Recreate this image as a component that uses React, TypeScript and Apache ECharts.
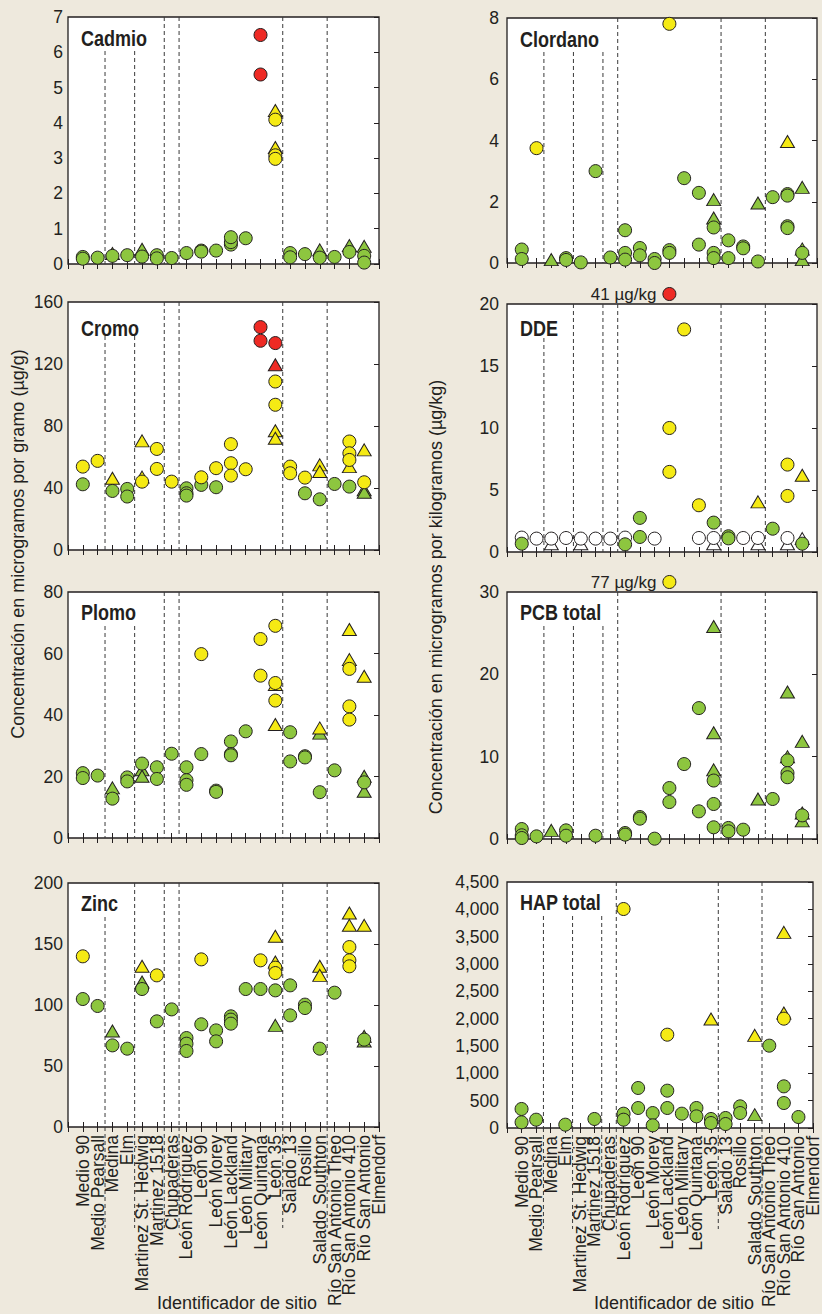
import React, { useEffect, useRef } from 'react';
import * as echarts from 'echarts';

// ---------------- DATA ----------------
const SITES = [
  'Medio 90', 'Medio Pearsall', 'Medina', 'Elm', 'Martinez St. Hedwig', 'Martinez 1518',
  'Chupaderas', 'León Rodríguez', 'León 90', 'León Morey', 'León Lackland', 'León Military',
  'León Quintana', 'León 35', 'Salado 13', 'Rosillo', 'Salado Southton',
  'Río San Antonio Theo', 'Río San Antonio 410', 'Río San Antonio', 'Elmendorf',
];

// boundaries between groups of sites (in site-index units)
const GROUP_BOUNDARIES = [1.5, 3.5, 5.5, 6.5, 13.5, 16.5];

const PANEL_NAMES = ['Cadmio', 'Clordano', 'Cromo', 'DDE', 'Plomo', 'PCB total', 'Zinc', 'HAP total'];
const AXIS_MAX = [7, 8, 160, 20, 80, 30, 200, 4500];
const AXIS_STEP = [1, 2, 40, 5, 20, 10, 50, 500];
const OUTLIER_UNIT = 'µg/kg';

const Y_TITLE_LEFT = 'Concentración en microgramos por gramo (µg/g)';
const Y_TITLE_RIGHT = 'Concentración en microgramos por kilogramos (µg/kg)';
const X_TITLE = 'Identificador de sitio';

// [site index, value, kind]; kind = colour (g green, y yellow, r red, w white) + shape (c circle, t triangle)
type Pt = [number, number, string];

const CADMIO: Pt[] = [
  [0, 0.2, 'gc'], [0, 0.15, 'gc'], [1, 0.18, 'gc'], [2, 0.3, 'gt'], [2, 0.23, 'gc'],
  [3, 0.25, 'gc'], [4, 0.42, 'gt'], [4, 0.21, 'gc'], [5, 0.25, 'gc'], [5, 0.16, 'gc'],
  [6, 0.17, 'gc'], [7, 0.31, 'gc'], [8, 0.38, 'gc'], [8, 0.35, 'gc'], [9, 0.38, 'gc'],
  [10, 0.55, 'gc'], [10, 0.62, 'gc'], [10, 0.76, 'gc'], [11, 0.73, 'gc'],
  [12, 6.49, 'rc'], [12, 5.37, 'rc'],
  [13, 4.35, 'yt'], [13, 3.3, 'yt'], [13, 4.09, 'yc'], [13, 3.08, 'yc'], [13, 2.98, 'yc'],
  [14, 0.31, 'gc'], [14, 0.19, 'gc'], [15, 0.28, 'gc'], [16, 0.4, 'gt'], [16, 0.18, 'gc'],
  [17, 0.2, 'gc'], [18, 0.52, 'gt'], [18, 0.34, 'gc'], [19, 0.5, 'gt'], [19, 0.23, 'gc'], [19, 0.04, 'gc'],
];

const CLORDANO: Pt[] = [
  [0, 0.44, 'gc'], [0, 0.13, 'gc'], [1, 3.75, 'yc'], [2, 0.11, 'gt'], [3, 0.16, 'gc'], [3, 0.1, 'gc'],
  [4, 0.02, 'gc'], [5, 3.0, 'gc'], [6, 0.18, 'gc'], [7, 1.07, 'gc'], [7, 0.33, 'gc'], [7, 0.11, 'gc'],
  [8, 0.49, 'gc'], [8, 0.25, 'gc'], [9, 0.13, 'gc'], [9, 0.0, 'gc'],
  [10, 7.81, 'yc'], [10, 0.42, 'gc'], [10, 0.33, 'gc'], [11, 2.77, 'gc'], [12, 2.29, 'gc'], [12, 0.6, 'gc'],
  [13, 2.07, 'gt'], [13, 1.47, 'gt'], [13, 1.16, 'gc'], [13, 0.33, 'gc'], [13, 0.16, 'gc'],
  [14, 0.74, 'gc'], [14, 0.16, 'gc'], [15, 0.54, 'gc'], [15, 0.48, 'gc'], [16, 1.96, 'gt'], [16, 0.05, 'gc'],
  [17, 2.15, 'gc'], [18, 3.97, 'yt'], [18, 2.25, 'gc'], [18, 2.2, 'gc'], [18, 1.2, 'gc'], [18, 1.14, 'gc'],
  [19, 2.47, 'gt'], [19, 0.46, 'gt'], [19, 0.11, 'gt'], [19, 0.33, 'gc'],
];

const CROMO: Pt[] = [
  [0, 53.8, 'yc'], [0, 42.4, 'gc'], [1, 57.5, 'yc'], [2, 46.3, 'yt'], [2, 38.1, 'gc'],
  [3, 39.4, 'gc'], [3, 34.5, 'gc'], [4, 70.4, 'yt'], [4, 47, 'yt'], [4, 44.1, 'yc'],
  [5, 65.2, 'yc'], [5, 52.3, 'yc'], [6, 44.1, 'yc'], [7, 39.8, 'gc'], [7, 36.6, 'gc'], [7, 35.1, 'gc'],
  [8, 46.9, 'yc'], [8, 42, 'gc'], [9, 52.8, 'yc'], [9, 40.5, 'gc'],
  [10, 68.3, 'yc'], [10, 56, 'yc'], [10, 48, 'yc'], [11, 52.1, 'yc'], [12, 143.8, 'rc'], [12, 135, 'rc'],
  [13, 133.5, 'rc'], [13, 119.5, 'rt'], [13, 108.7, 'yc'], [13, 93.7, 'yc'], [13, 76.9, 'yt'], [13, 72.1, 'yt'],
  [14, 53.8, 'yc'], [14, 49.5, 'yc'], [15, 46.7, 'yc'], [15, 36.6, 'gc'],
  [16, 54.9, 'yt'], [16, 50.6, 'yt'], [16, 32.7, 'gc'], [17, 42.6, 'gc'],
  [18, 70, 'yc'], [18, 62.4, 'yc'], [18, 58.1, 'yc'], [18, 53.8, 'yt'], [18, 40.9, 'gc'],
  [19, 64.6, 'yt'], [19, 43.7, 'yc'], [19, 38.8, 'gt'], [19, 37.3, 'gt'],
];

const DDE: Pt[] = [
  [0, 1.16, 'wc'], [0, 0.67, 'gc'], [1, 1.08, 'wc'], [2, 0.67, 'wt'], [2, 1.08, 'wc'],
  [3, 1.13, 'wc'], [4, 0.67, 'wt'], [4, 1.08, 'wc'], [5, 1.08, 'wc'], [6, 1.08, 'wc'],
  [7, 1.16, 'wc'], [7, 0.62, 'gc'], [8, 2.75, 'gc'], [8, 1.21, 'gc'], [9, 1.08, 'wc'],
  [10, 41, 'rc'], [10, 10.0, 'yc'], [10, 6.46, 'yc'], [11, 17.95, 'yc'],
  [12, 3.77, 'yc'], [12, 1.13, 'wc'], [13, 2.37, 'gc'], [13, 0.67, 'wt'], [13, 1.13, 'wc'],
  [14, 1.27, 'gc'], [14, 1.1, 'gc'], [15, 1.13, 'wc'], [16, 4.04, 'yt'], [16, 0.67, 'wt'], [16, 1.13, 'wc'],
  [17, 1.88, 'gc'], [18, 7.05, 'yc'], [18, 4.52, 'yc'], [18, 0.67, 'wt'], [18, 1.13, 'wc'],
  [19, 6.19, 'yt'], [19, 1.08, 'wt'], [19, 0.67, 'gc'],
];

const PLOMO: Pt[] = [
  [0, 21.1, 'gc'], [0, 19.5, 'gc'], [1, 20.3, 'gc'], [2, 16.3, 'gt'], [2, 12.8, 'gc'],
  [3, 19.7, 'gc'], [3, 18.4, 'gc'], [4, 22.2, 'gt'], [4, 20.1, 'gt'], [4, 24.2, 'gc'],
  [5, 23, 'gc'], [5, 19.2, 'gc'], [6, 27.4, 'gc'], [7, 23, 'gc'], [7, 18.8, 'gc'], [7, 17.3, 'gc'],
  [8, 59.8, 'yc'], [8, 27.3, 'gc'], [9, 15.4, 'gc'], [9, 15, 'gc'],
  [10, 31.4, 'gc'], [10, 27.3, 'gc'], [10, 26.9, 'gc'], [11, 34.7, 'gc'], [12, 64.7, 'yc'], [12, 52.8, 'yc'],
  [13, 69, 'yc'], [13, 49.9, 'yt'], [13, 50.4, 'yc'], [13, 44.7, 'yc'], [13, 36.9, 'yt'],
  [14, 34.4, 'gc'], [14, 24.9, 'gc'], [15, 26.6, 'gc'], [15, 26.2, 'gc'],
  [16, 35.8, 'yt'], [16, 34.1, 'gt'], [16, 14.9, 'gc'], [17, 22, 'gc'],
  [18, 67.8, 'yt'], [18, 58, 'yt'], [18, 55, 'yc'], [18, 42.8, 'yc'], [18, 38.5, 'yc'],
  [19, 52.6, 'yt'], [19, 20.1, 'gt'], [19, 15.2, 'gt'], [19, 18.1, 'gc'],
];

const PCB: Pt[] = [
  [0, 1.21, 'gc'], [0, 0.45, 'gc'], [0, 0.12, 'gc'], [1, 0.32, 'gc'], [2, 1.05, 'gt'],
  [3, 1.05, 'gc'], [3, 0.4, 'gc'], [5, 0.4, 'gc'], [7, 0.73, 'gc'], [7, 0.53, 'gc'],
  [8, 2.67, 'gc'], [8, 2.47, 'gc'], [9, 0.04, 'gc'],
  [10, 77, 'yc'], [10, 6.19, 'gc'], [10, 4.49, 'gc'], [11, 9.1, 'gc'], [12, 15.9, 'gc'], [12, 3.36, 'gc'],
  [13, 25.8, 'gt'], [13, 12.9, 'gt'], [13, 8.4, 'gt'], [13, 7.1, 'gc'], [13, 4.25, 'gc'], [13, 1.42, 'gc'],
  [14, 1.34, 'gc'], [14, 0.93, 'gc'], [15, 1.13, 'gc'], [16, 4.86, 'gt'], [17, 4.86, 'gc'],
  [18, 17.85, 'gt'], [18, 10, 'gt'], [18, 9.55, 'gc'], [18, 8.0, 'gc'], [18, 7.5, 'gc'],
  [19, 11.86, 'gt'], [19, 3.15, 'gt'], [19, 2.2, 'gt'], [19, 2.87, 'gc'],
];

const ZINC: Pt[] = [
  [0, 139.9, 'yc'], [0, 104.9, 'gc'], [1, 99.2, 'gc'], [2, 78.7, 'gt'], [2, 66.9, 'gc'], [3, 64.2, 'gc'],
  [4, 131.7, 'yt'], [4, 118.9, 'gt'], [4, 113.1, 'gc'], [5, 124.3, 'yc'], [5, 86.6, 'gc'], [6, 96.4, 'gc'],
  [7, 72.9, 'gc'], [7, 68.3, 'gc'], [7, 62.3, 'gc'], [8, 137.4, 'yc'], [8, 84.2, 'gc'],
  [9, 79.2, 'gc'], [9, 70.2, 'gc'], [10, 90.7, 'gc'], [10, 88, 'gc'], [10, 84.7, 'gc'], [11, 113.1, 'gc'],
  [12, 136.6, 'yc'], [12, 113.1, 'gc'],
  [13, 156.3, 'yt'], [13, 135.2, 'yt'], [13, 130.6, 'yc'], [13, 126.2, 'yc'], [13, 112, 'gc'], [13, 83.3, 'gt'],
  [14, 116.1, 'gc'], [14, 91.5, 'gc'], [15, 100.3, 'gc'], [15, 97.5, 'gc'],
  [16, 131.7, 'yt'], [16, 124.3, 'yt'], [16, 64.2, 'gc'], [17, 110.1, 'gc'],
  [18, 175.4, 'yt'], [18, 165.3, 'yt'], [18, 147.5, 'yc'], [18, 136.6, 'yc'], [18, 131.7, 'yc'],
  [19, 165.3, 'yt'], [19, 74.3, 'gt'], [19, 70.5, 'gt'], [19, 71.6, 'gc'],
];

const HAP: Pt[] = [
  [0, 348, 'gc'], [0, 104, 'gc'], [1, 152, 'gc'], [3, 61, 'gc'], [5, 165, 'gc'],
  [7, 4006, 'yc'], [7, 262, 'gc'], [7, 152, 'gc'], [8, 732, 'gc'], [8, 366, 'gc'],
  [9, 274, 'gc'], [9, 49, 'gc'], [10, 1707, 'yc'], [10, 683, 'gc'], [10, 366, 'gc'],
  [11, 262, 'gc'], [12, 366, 'gc'], [12, 213, 'gc'], [13, 1994, 'yt'], [13, 165, 'gc'], [13, 91, 'gc'],
  [14, 183, 'gc'], [14, 73, 'gc'], [15, 396, 'gc'], [15, 274, 'gc'], [16, 1695, 'yt'], [16, 244, 'gt'],
  [17, 1506, 'gc'], [18, 3579, 'yt'], [18, 2104, 'yt'], [18, 2000, 'yc'], [18, 762, 'gc'], [18, 457, 'gc'],
  [19, 201, 'gc'],
];

const PANEL_DATA = [CADMIO, CLORDANO, CROMO, DDE, PLOMO, PCB, ZINC, HAP];

// ---------------- LAYOUT / STYLE ----------------
const W = 822;
const H = 1314;
const LAYOUT = [
  { l: 68, t: 17, w: 311, h: 247, tt: 21 },
  { l: 507, t: 18, w: 310, h: 245, tt: 21 },
  { l: 68, t: 302, w: 311, h: 248, tt: 26 },
  { l: 507, t: 304, w: 310, h: 248, tt: 24 },
  { l: 68, t: 592, w: 311, h: 246, tt: 20 },
  { l: 507, t: 592, w: 310, h: 247, tt: 20 },
  { l: 68, t: 883, w: 311, h: 244, tt: 20 },
  { l: 507, t: 882, w: 310, h: 246, tt: 20 },
];
const SHORT_DIVIDERS = [2, 3, 2, 1, 2, 3, 1, 3];

const BG = '#EEE9DD';
const INK = '#231F20';
const FILL: Record<string, string> = { g: '#8DC63F', y: '#F5EA14', r: '#EE2A24', w: '#FFFFFF' };
const KIND_ORDER = ['wt', 'gt', 'yt', 'rt', 'wc', 'gc', 'yc', 'rc'];
const SANS = "'Liberation Sans', Arial, sans-serif";

// Category slots: one empty slot before the first site so that the sites sit one step in from the left frame
const LABEL_SLOTS = ['', ...SITES];

function buildOption() {
  const grid: any[] = [];
  const xAxis: any[] = [];
  const yAxis: any[] = [];
  const series: any[] = [];

  PANEL_DATA.forEach((pts, g) => {
    const L = LAYOUT[g];
    const max = AXIS_MAX[g];
    const isBottom = g >= 6;
    const isRight = g % 2 === 1;
    const tick = { show: true, inside: true, length: 5, interval: 0, lineStyle: { color: INK, width: 1 } };
    grid.push({
      left: L.l, top: L.t, width: L.w, height: L.h, show: true,
      backgroundColor: '#FFFFFF', borderColor: INK, borderWidth: 1.3,
    });
    // bottom: category axis carrying the site names
    xAxis.push({
      type: 'category', gridIndex: g, position: 'bottom', data: LABEL_SLOTS, boundaryGap: false,
      axisLine: { show: false }, splitLine: { show: false }, axisTick: tick,
      axisLabel: isBottom
        ? { show: true, interval: 0, rotate: 90, margin: 8, fontSize: 17.5, fontFamily: SANS, color: INK }
        : { show: false },
    });
    // top: value axis (site index) used to place the marks
    xAxis.push({
      type: 'value', gridIndex: g, position: 'top', min: -1, max: SITES.length - 1, interval: 1,
      axisLine: { show: false }, splitLine: { show: false }, axisTick: tick, axisLabel: { show: false },
    });
    const yBase = {
      type: 'value', gridIndex: g, min: 0, max, interval: AXIS_STEP[g],
      axisLine: { show: false }, splitLine: { show: false },
    };
    yAxis.push({
      ...yBase, position: 'left', axisTick: { show: false },
      axisLabel: {
        show: true, fontSize: 17.5, fontFamily: SANS, color: INK, margin: isRight ? 8 : 5,
        formatter: (v: number) => v.toLocaleString('en-US'),
      },
    });
    yAxis.push({
      ...yBase, position: 'right', axisLabel: { show: false },
      axisTick: { show: true, inside: true, length: 5, lineStyle: { color: INK, width: 1 } },
    });

    const xi = 2 * g + 1;
    const yi = 2 * g;

    // dashed group dividers
    GROUP_BOUNDARIES.forEach((b, k) => {
      const top = k < SHORT_DIVIDERS[g] ? max * (1 - 34 / L.h) : max;
      series.push({
        type: 'line', xAxisIndex: xi, yAxisIndex: yi, data: [[b, top], [b, 0]],
        symbol: 'none', silent: true, z: 1,
        lineStyle: { color: '#3A3A3A', width: 1, type: [4, 3] },
      });
    });

    KIND_ORDER.forEach((kind) => {
      const d = pts.filter((p) => p[2] === kind && p[1] <= max).map((p) => [p[0], p[1]]);
      if (!d.length) return;
      const circle = kind[1] === 'c';
      series.push({
        type: 'scatter', xAxisIndex: xi, yAxisIndex: yi, data: d, silent: true, z: 3,
        symbol: circle ? 'circle' : 'triangle', symbolSize: circle ? 13 : [14, 12],
        itemStyle: { color: FILL[kind[0]], borderColor: INK, borderWidth: 1, opacity: 1 },
        emphasis: { disabled: true },
      });
    });

    const out = pts.filter((p) => p[1] > max);
    if (out.length) {
      series.push({
        type: 'scatter', xAxisIndex: xi, yAxisIndex: yi, clip: false, silent: true, z: 3,
        data: out.map((p) => ({
          value: [p[0], max * (1 + 10 / L.h)],
          name: `${p[1]} ${OUTLIER_UNIT}`,
          itemStyle: { color: FILL[p[2][0]] },
        })),
        symbol: 'circle', symbolSize: 13,
        itemStyle: { borderColor: INK, borderWidth: 1, opacity: 1 },
        label: {
          show: true, position: 'left', distance: 6, formatter: '{b}',
          fontSize: 17, fontFamily: SANS, color: INK,
        },
        emphasis: { disabled: true },
      });
    }
  });

  return { animation: false, backgroundColor: BG, grid, xAxis, yAxis, series };
}

function textEl(text: string, x: number, y: number, opts: any = {}) {
  return {
    type: 'text', x, y, rotation: opts.rotation || 0, scaleX: opts.scaleX || 1, silent: true, z: 10,
    style: {
      text, fill: INK, fontSize: opts.fontSize || 18, fontFamily: SANS,
      fontWeight: opts.fontWeight || 'normal',
      textAlign: opts.align || 'left', align: opts.align || 'left',
      textVerticalAlign: 'middle', verticalAlign: 'middle',
    },
  };
}

export default function App() {
  const ref = useRef<HTMLDivElement>(null);
  useEffect(() => {
    if (!ref.current) return;
    const chart = echarts.init(ref.current, null, { renderer: 'svg' });
    chart.setOption(buildOption());

    const gr: any[] = [];
    PANEL_NAMES.forEach((n, g) => {
      const L = LAYOUT[g];
      gr.push(textEl(n, L.l + 13, L.t + L.tt, { fontSize: 22, fontWeight: 'bold', scaleX: 0.82 }));
    });
    gr.push(textEl(Y_TITLE_LEFT, 18, 544, { rotation: Math.PI / 2, align: 'center' }));
    gr.push(textEl(Y_TITLE_RIGHT, 436, 597, { rotation: Math.PI / 2, align: 'center' }));
    gr.push(textEl(X_TITLE, 237, 1303, { align: 'center' }));
    gr.push(textEl(X_TITLE, 674, 1303, { align: 'center' }));

    // dividers continue through the site-label area of the bottom row
    [6, 7].forEach((g) => {
      const L = LAYOUT[g];
      const y0 = L.t + L.h;
      GROUP_BOUNDARIES.forEach((b) => {
        const px = chart.convertToPixel({ xAxisIndex: 2 * g + 1 } as any, b) as unknown as number;
        gr.push({
          type: 'line', silent: true, z: 0,
          shape: { x1: px, y1: y0, x2: px, y2: y0 + 101 },
          style: { stroke: '#3A3A3A', lineWidth: 1, lineDash: [4, 3] },
        });
      });
    });
    chart.setOption({ graphic: gr });

    return () => chart.dispose();
  }, []);
  return <div ref={ref} style={{ position: 'absolute', left: 0, top: 0, width: W, height: H }} />;
}
